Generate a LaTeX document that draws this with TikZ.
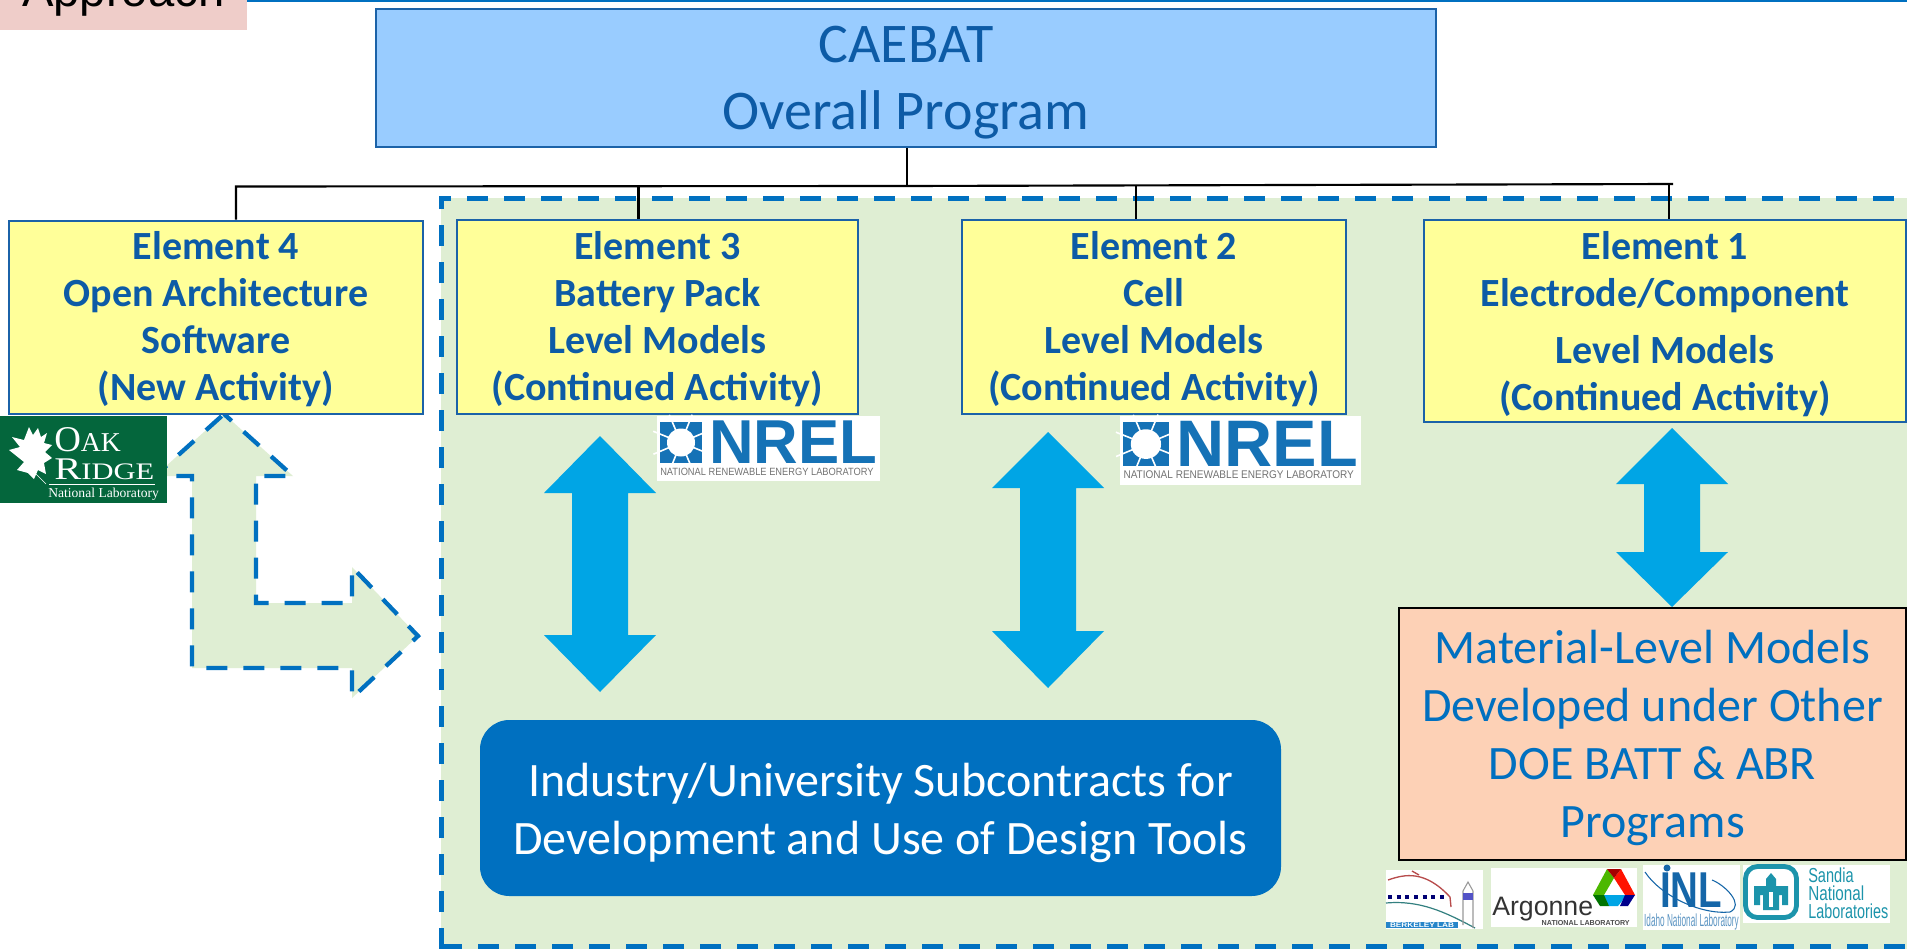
\documentclass[tikz,border=0pt]{standalone}
\usepackage{fontspec}
\setmainfont{Carlito}
\newfontfamily\arialf{Liberation Sans}
\newfontfamily\timesf{Liberation Serif}
\definecolor{dashblue}{HTML}{0070C0}
\definecolor{boxblue}{HTML}{1B62A8}
\definecolor{txtblue}{HTML}{0D5BA6}
\definecolor{paleblue}{HTML}{99CCFF}
\definecolor{paleyellow}{HTML}{FFFF99}
\definecolor{palegreen}{HTML}{DFEED3}
\definecolor{arrowblue}{HTML}{00A5E5}
\definecolor{peach}{HTML}{FDD1B6}
\definecolor{rosebox}{HTML}{EFCDC9}
\definecolor{oakgreen}{HTML}{04663C}
\definecolor{nrelblue}{HTML}{1572B6}
\definecolor{sandiateal}{HTML}{1C94AB}
\definecolor{inlblue}{HTML}{1566A8}
\newcommand{\dblarrow}[6]{%
 \fill[arrowblue] (#1,#2) -- ({#1+#6},#3) -- ({#1+28},#3) -- ({#1+28},#4) -- ({#1+#6},#4) -- (#1,#5) -- ({#1-#6},#4) -- ({#1-28},#4) -- ({#1-28},#3) -- ({#1-#6},#3) -- cycle;}
\newcommand{\lift}[1]{\rule{0pt}{#1pt}}
\tikzset{
 x=.75pt,y=-.75pt,
 elbox/.style={draw=boxblue,line width=1.9pt,fill=paleyellow,text=txtblue,align=center,inner sep=0pt,
   font=\fontsize{30}{35.3}\selectfont\bfseries},
 conn/.style={draw=black,line width=1.6pt},
 dashedge/.style={draw=dashblue,line width=3.75pt,dash pattern=on 15.75pt off 12pt},
 pics/nrel/.style={code={
   \fill[white] (0,0) rectangle (223,65);
   \fill[nrelblue] (3,6) rectangle (45,47);
   \fill[white] (24,26.5) circle (14);
   \foreach \a in {0,45,...,315}{\draw[white,line width=1.2pt] (24,26.5) -- ++(\a+22:30);}
   \node[inner sep=0pt,text=nrelblue,anchor=west,font=\arialf\bfseries] (-word) at (52,26)
     {\resizebox{126pt}{32pt}{NREL}};
   \node[inner sep=0pt,text=black!55,anchor=west,font=\arialf] (-sub) at (3,55.5)
     {\resizebox{160pt}{5.5pt}{NATIONAL RENEWABLE ENERGY LABORATORY}};
 }},
}
\begin{document}
\begin{tikzpicture}
\useasboundingbox (0,0) rectangle (1907,949);
\clip (0,0) rectangle (1907,949);
\fill[white] (0,0) rectangle (1907,949);
% header
\draw[dashblue,line width=2pt] (247,1) -- (1907,1);
\fill[rosebox] (0,0) rectangle (247,30);
\node[anchor=base west,inner sep=0pt,text=black,font=\arialf\fontsize{35.4}{40}\selectfont] (approach) at (22,7) {Approach};
% green region
\fill[palegreen] (441,198) rectangle (1910,949);
\draw[dashedge] (441,949) -- (441,198) -- (1915,198);
\draw[dashedge] (441,946) -- (1915,946);
% L arrow
\path[fill=palegreen] (224,414) -- (293,476) -- (256,476) -- (256,603) -- (352,603) -- (352,567) -- (418,636) -- (352,698) -- (352,668) -- (192,668) -- (192,476) -- (155,476) -- cycle;
\draw[dashedge,line width=3.2pt,dash pattern=on 15.75pt off 12pt,dash phase=8pt] (224,414) -- (293,476) -- (256,476) -- (256,603) -- (352,603) -- (352,567) -- (418,636) -- (352,698) -- (352,668) -- (192,668) -- (192,476) -- (155,476) -- cycle;
% main boxes
\node[draw=boxblue,line width=1.9pt,fill=paleblue,text=txtblue,align=center,inner sep=0pt,
  minimum width=1060*.75pt,minimum height=138*.75pt,font=\fontsize{42}{50}\selectfont] (caebat) at (906,78) {\lift{34.5}CAEBAT\\Overall Program};
\node[elbox,minimum width=414*.75pt,minimum height=193*.75pt] (e4) at (216,317.5) {\lift{23.8}Element 4\\Open Architecture\\Software\\(New Activity)};
\node[elbox,minimum width=401*.75pt,minimum height=194*.75pt] (e3) at (657.5,317) {\lift{23.8}Element 3\\Battery Pack\\Level Models\\(Continued Activity)};
\node[elbox,minimum width=384*.75pt,minimum height=194*.75pt] (e2) at (1154,317) {\lift{23.8}Element 2\\Cell\\Level Models\\(Continued Activity)};
\node[elbox,minimum width=482*.75pt,minimum height=202*.75pt] (e1) at (1665,321) {\lift{25.6}Element 1\\Electrode/Component\\[7.5pt]Level Models\\(Continued Activity)};
% bus
\coordinate (busL) at (236,186.5);
\coordinate (busM) at (907,186);
\coordinate (bus3) at (638.5,186);
\coordinate (bus2) at (1136,184.5);
\coordinate (bus1) at (1669,184);
\coordinate (busR) at (1673,184);
\draw[conn] (busL |- e4.north) -- (busL) -- (busM) -- (busR);
\draw[conn] (caebat.south -| busM) -- (busM);
\draw[conn] (bus3) -- (bus3 |- e3.north);
\draw[conn] (bus2) -- (bus2 |- e2.north);
\draw[conn] (bus1) -- (bus1 |- e1.north);
% double arrows
\dblarrow{600}{436}{493}{635}{692}{56}
\dblarrow{1048}{432}{488}{631}{688}{56}
\dblarrow{1672}{428}{484}{552}{607}{56}
% lower boxes
\node[fill=dashblue,rounded corners=22pt,text=white,align=center,inner sep=0pt,
  minimum width=801*.75pt,minimum height=176*.75pt,font=\fontsize{36}{44}\selectfont] (subs) at (880.5,808) {\lift{32.4}Industry/University Subcontracts for\\Development and Use of Design Tools};
\node[draw=black,line width=2.2pt,fill=peach,text=dashblue,align=center,inner sep=0pt,
  minimum width=507*.75pt,minimum height=252*.75pt,font=\fontsize{36}{43.5}\selectfont] (matl) at (1652.5,734) {\lift{31.5}Material-Level Models\\Developed under Other\\DOE BATT \& ABR\\Programs};
% Oak Ridge logo
\fill[oakgreen] (0,416) rectangle (167,503);
\fill[white] (29,427) -- (33,435) -- (38,428) -- (41,437) -- (47,433) -- (44,443) -- (52,445) -- (45,452) -- (52,458) -- (44,463) -- (46,474) -- (38,470) -- (34,479) -- (28,473) -- (17,470) -- (24,462) -- (9,450) -- (20,447) -- (12,437) -- (24,440) -- cycle;
\draw[white,line width=.5pt] (32,470) -- (46,484);
\node[anchor=base west,inner sep=0pt,text=white,font=\timesf] (oak) at (54,451) {\resizebox{50pt}{18pt}{\fontsize{24}{24}\selectfont O\fontsize{18}{18}\selectfont AK}};
\node[anchor=base west,inner sep=0pt,text=white,font=\timesf] (ridge) at (54,479) {\resizebox{75pt}{15.5pt}{\fontsize{24}{24}\selectfont R\fontsize{18}{18}\selectfont IDGE}};
\draw[white,line width=.5pt] (49,484) -- (155,484);
\node[anchor=base west,inner sep=0pt,text=white,font=\timesf\fontsize{10.2}{11}\selectfont] (natl) at (48,497) {National Laboratory};
% NREL logos
\pic (nrelA) at (657,416) {nrel};
\pic[xscale=1.08,yscale=1.06,transform shape] (nrelB) at (1120,416) {nrel};
% Berkeley logo
\fill[white] (1386,870) rectangle (1483,929);
\draw[red!60!black!70,line width=1pt] (1388,880) .. controls (1405,874) and (1425,870) .. (1450,897) -- (1451,907);
\draw[red!60!black!70,line width=1pt] (1412,871) -- (1419,875);
\draw[blue!45!black,line width=3pt,dash pattern=on 3pt off 3.5pt] (1388,897) -- (1446,897);
\draw[teal!60!gray,line width=.9pt] (1386,903) .. controls (1420,900) and (1445,912) .. (1475,928);
\draw[gray!80,line width=.8pt] (1463,925) -- (1463,891) -- (1468,882) -- (1473,891) -- (1473,928);
\fill[blue!50!gray!90] (1463,893) rectangle (1473,900);
\fill[dashblue!85] (1386,922) rectangle (1458,928);
\node[inner sep=0pt,text=white,font=\arialf\bfseries] (berk) at (1422,925) {\resizebox{48pt}{3.5pt}{BERKELEY LAB}};
% Argonne logo
\fill[white] (1491,868) rectangle (1637,927);
\node[anchor=base west,inner sep=0pt,text=black!80,font=\arialf\fontsize{20}{24}\selectfont] (arg) at (1492,915) {Argonne};
\node[anchor=east,inner sep=0pt,text=black!70,font=\arialf\bfseries] (argn) at (1630,923) {\resizebox{66pt}{3.8pt}{NATIONAL LABORATORY}};
\fill[green!60!black!70!yellow] (1607,869) -- (1614,878) -- (1604,895) -- (1593,895) -- cycle;
\fill[red!85!orange] (1621,869) -- (1635,895) -- (1625,895) -- (1614,878) -- cycle;
\fill[red!65!black] (1607,869) -- (1621,869) -- (1614,878) -- cycle;
\fill[arrowblue] (1602,895) -- (1627,895) -- (1618,906) -- (1609,906) -- cycle;
\fill[green!45!black] (1593,895) -- (1604,895) -- (1609,906) -- (1600,906) -- cycle;
\fill[blue!55!black] (1635,895) -- (1625,895) -- (1620,906) -- (1628,906) -- cycle;
% INL logo
\fill[white] (1643,865) rectangle (1740,930);
\node[inner sep=0pt,text=inlblue,font=\arialf\bfseries] (inl) at (1691,890) {\resizebox{46.5pt}{26pt}{INL}};
\draw[inlblue,line width=.8pt] (1645,872) .. controls (1660,895) and (1700,915) .. (1730,912) .. controls (1745,905) and (1725,885) .. (1712,880);
\fill[inlblue] (1667,868) circle (3.5);
\node[inner sep=0pt,text=inlblue!70,font=\arialf] (inls) at (1691.5,921.5) {\resizebox{71pt}{9.5pt}{Idaho National Laboratory}};
% Sandia logo
\fill[white] (1743,865) rectangle (1890,923);
\draw[sandiateal,line width=3.6pt,rounded corners=9pt] (1745.5,866.5) rectangle (1796.5,917.5);
\fill[sandiateal] (1771,873) -- (1776,879) -- (1776,886) -- (1788,886) -- (1788,905) -- (1782,905) -- (1782,895) -- (1779,895) -- (1779,910) -- (1763,910) -- (1763,895) -- (1760,895) -- (1760,905) -- (1754,905) -- (1754,886) -- (1766,886) -- (1766,879) -- cycle;
\fill[white] (1769,892) rectangle (1773,907);
\node[anchor=west,inner sep=0pt,text=sandiateal,font=\arialf] (sandiaA) at (1808,875) {\resizebox{34pt}{11pt}{Sandia}};
\node[anchor=west,inner sep=0pt,text=sandiateal,font=\arialf] (sandiaB) at (1808,893) {\resizebox{42pt}{11pt}{National}};
\node[anchor=west,inner sep=0pt,text=sandiateal,font=\arialf] (sandiaC) at (1808,911) {\resizebox{60pt}{11pt}{Laboratories}};
\end{tikzpicture}
\end{document}
